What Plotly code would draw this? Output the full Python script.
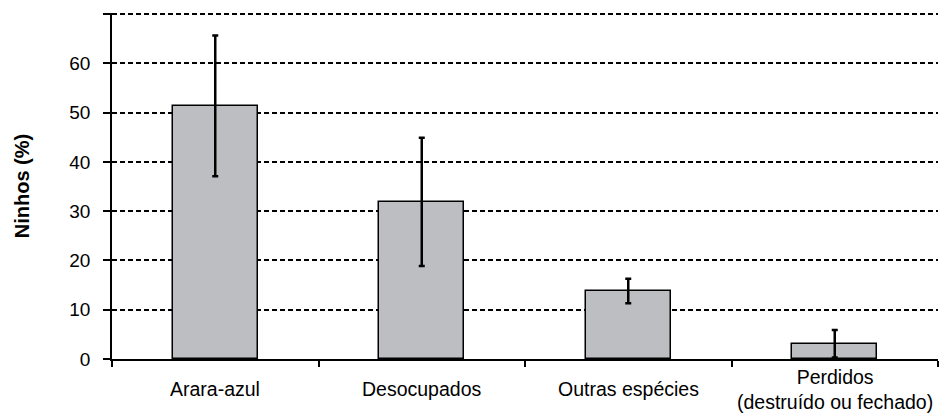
import plotly.graph_objects as go

categories = ["Arara-azul", "Desocupados", "Outras espécies", "Perdidos<br>(destruído ou fechado)"]
values = [51.4, 31.9, 13.8, 3.1]
errors = [14.3, 13.0, 2.5, 2.8]
ytick_vals = [0, 10, 20, 30, 40, 50, 60, 70]
ytick_text = ["0", "10", "20", "30", "40", "50", "60", ""]
y_max = 70

FONT = "Liberation Sans, Arial, sans-serif"

fig = go.Figure()
fig.add_trace(go.Bar(
    x=list(range(len(categories))), y=values, width=0.41,
    marker=dict(color="#BDBEC2", line=dict(color="black", width=1.5)),
    error_y=dict(type="data", array=errors, visible=True, color="black", thickness=2.5, width=3),
    showlegend=False,
))

for i, c in enumerate(categories):
    fig.add_annotation(x=i, xref="x", y=-0.088, yref="paper", text=c, showarrow=False,
                       yanchor="middle", xanchor="center",
                       font=dict(family=FONT, size=19.5, color="black"))

# top gridline at the axis maximum
fig.add_shape(type="line", xref="paper", x0=0, x1=1, yref="y", y0=y_max, y1=y_max,
              line=dict(color="black", width=1.5, dash="5px,3px"), layer="below")

fig.update_layout(
    width=942, height=413,
    margin=dict(l=112, r=4, t=13, b=54),
    plot_bgcolor="white", paper_bgcolor="white",
    font=dict(family=FONT, size=19, color="black"),
    bargap=0,
)
fig.update_xaxes(
    range=[-0.5, 3.5], tickvals=[-0.5, 0.5, 1.5, 2.5, 3.5], showticklabels=False,
    ticks="outside", ticklen=6, tickwidth=1.5, tickcolor="black",
    showline=True, linecolor="black", linewidth=1.5, showgrid=False, zeroline=False,
)
fig.update_yaxes(
    range=[0, y_max + 0.25], tickvals=ytick_vals, ticktext=ytick_text,
    ticks="outside", ticklen=7, tickwidth=1.5, tickcolor="black",
    tickfont=dict(family=FONT, size=19, color="black"),
    showline=True, linecolor="black", linewidth=1.5,
    showgrid=True, gridcolor="black", gridwidth=1.5, griddash="5px,3px",
    zeroline=False, ticklabelstandoff=9,
    title=dict(text="<b>Ninhos (%)</b>", font=dict(family=FONT, size=20, color="black"), standoff=34),
)
fig.write_html("out.html", config={"displayModeBar": False},
               post_script="document.body.style.margin='0';")
